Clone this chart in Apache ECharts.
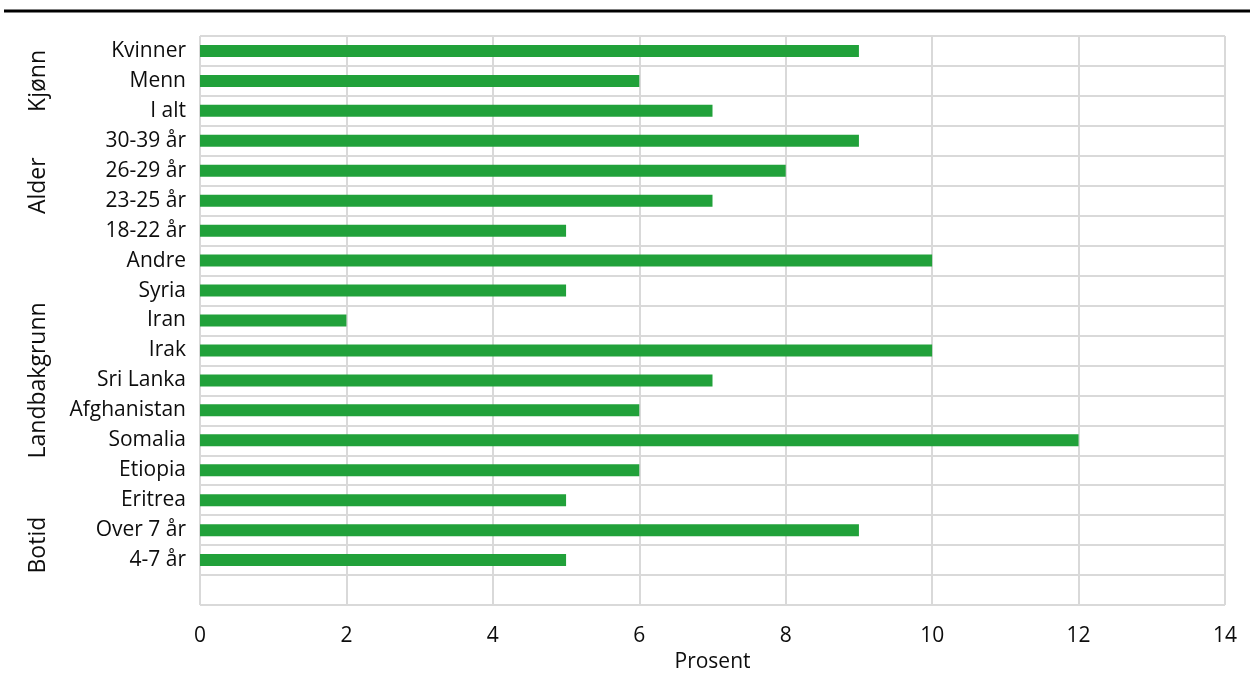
<!DOCTYPE html>
<html>
<head>
<meta charset="utf-8">
<script src="https://cdn.jsdelivr.net/npm/echarts@6/dist/echarts.min.js"></script>
<style>
html,body{margin:0;padding:0;background:#fff;}
#chart{width:1250px;height:678px;}
</style>
</head>
<body>
<div id="chart"></div>
<script>
const categories = ['Kvinner','Menn','I alt','30-39 år','26-29 år','23-25 år','18-22 år','Andre','Syria','Iran','Irak','Sri Lanka','Afghanistan','Somalia','Etiopia','Eritrea','Over 7 år','4-7 år',''];
const values = [9,6,7,9,8,7,5,10,5,2,10,7,6,12,6,5,9,5,null];
const groupNames = ['Kjønn','Alder','Landbakgrunn','Botid'];
const groupFirst = ['Kvinner','30-39 år','Andre','Over 7 år'];
const groupLast = ['I alt','18-22 år','Eritrea','4-7 år'];
const xTicks = [0,2,4,6,8,10,12,14];

const FONT = '"Open Sans", "Noto Sans", sans-serif';
const FS = 21;
const FSY = 21;
const TXT = '#0d0d0d';
const chart = echarts.init(document.getElementById('chart'), null, {renderer:'canvas'});
const option = {
  animation:false,
  grid:{left:200,right:25,top:36,bottom:73,containLabel:false},
  xAxis:{
    type:'value',min:xTicks[0],max:xTicks[xTicks.length-1],interval:2,
    name:'Prosent',nameLocation:'middle',nameGap:45,
    nameTextStyle:{fontFamily:FONT,fontSize:FS,color:TXT},
    axisLine:{show:false},axisTick:{show:false},
    axisLabel:{fontFamily:FONT,fontSize:FS,color:TXT,margin:21},
    splitLine:{show:true,lineStyle:{color:'#d9d9d9',width:2}}
  },
  yAxis:{
    type:'category',data:categories,inverse:true,
    axisLine:{show:false},axisTick:{show:false},
    axisLabel:{fontFamily:FONT,fontSize:FSY,color:TXT,margin:14},
    splitLine:{show:true,lineStyle:{color:'#d9d9d9',width:2}}
  },
  series:[{
    type:'bar',data:values,barWidth:12,
    itemStyle:{color:'#21a13a'}
  }]
};
chart.setOption(option);

const graphics = [{
  type:'line',shape:{x1:4,y1:11,x2:1250,y2:11},
  style:{stroke:'#000',lineWidth:3}
}];
for (let i=0;i<groupNames.length;i++){
  const y1 = chart.convertToPixel({yAxisIndex:0}, groupFirst[i]);
  const y2 = chart.convertToPixel({yAxisIndex:0}, groupLast[i]);
  graphics.push({
    type:'text',x:38,y:(y1+y2)/2,rotation:Math.PI/2,
    style:{text:groupNames[i],fontFamily:FONT,fontSize:23,fill:TXT,align:'center',verticalAlign:'middle'}
  });
}
chart.setOption({graphic:graphics});
</script>
</body>
</html>
